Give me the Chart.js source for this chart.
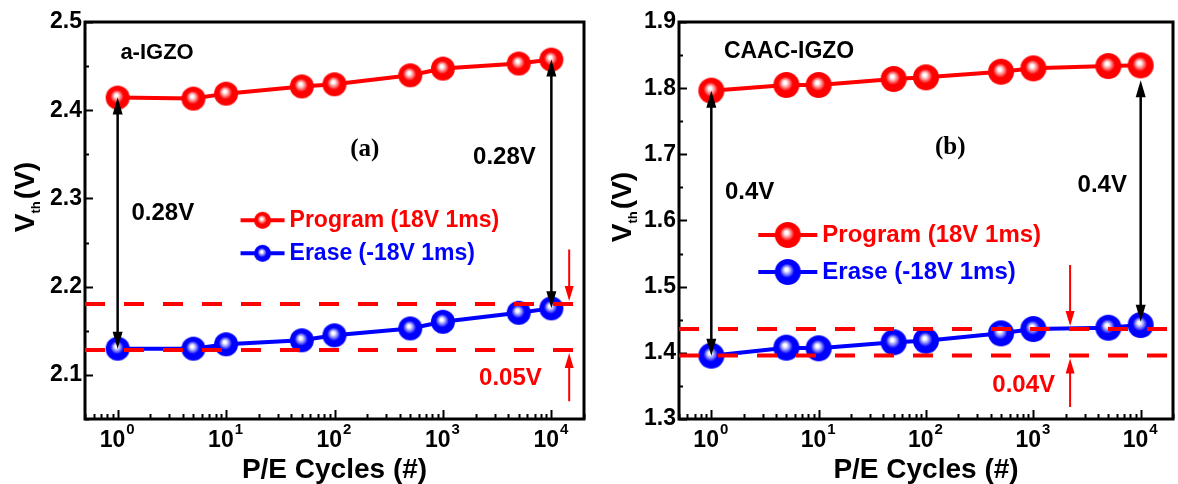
<!DOCTYPE html>
<html>
<head>
<meta charset="utf-8">
<script src="https://cdn.jsdelivr.net/npm/chart.js@4.4.1/dist/chart.umd.min.js"></script>
<style>
  html, body { margin: 0; padding: 0; background: #fff; overflow: hidden; }
  body { width: 1178px; height: 484px; position: relative; }
  canvas { position: absolute; top: 0; }
</style>
</head>
<body>
<canvas id="chart-a" width="600" height="484" style="left:0"></canvas>
<canvas id="chart-b" width="600" height="484" style="left:590px"></canvas>
<script>
// P/E cycles (x), shared by both panels
const cycles = [1, 5, 10, 50, 100, 500, 1000, 5000, 10000]

// (a) a-IGZO
const programA = [2.4143, 2.4132, 2.4188, 2.4270, 2.4294, 2.4396, 2.4472, 2.4529, 2.4574]
const eraseA = [2.1297, 2.1297, 2.1347, 2.1392, 2.1449, 2.1527, 2.1602, 2.1704, 2.1754]
const levelsA = [2.1281, 2.1803]

// (b) CAAC-IGZO
const programB = [1.7962, 1.8048, 1.8048, 1.8139, 1.8164, 1.8249, 1.8300, 1.8335, 1.8345]
const eraseB = [1.3957, 1.4078, 1.4069, 1.4160, 1.4184, 1.4295, 1.4360, 1.4380, 1.4420]
const levelsB = [1.3960, 1.4360]

const decadesShown = [0, 1, 2, 3, 4]

const SANS = '"Liberation Sans", Arial, Helvetica, sans-serif'
const SERIF = '"Liberation Serif", "Times New Roman", serif'
const RED = '#ff0000'
const BLUE = '#0000ff'

// shaded ball used as marker
function sphere(color, glow, r) {
  const c = document.createElement('canvas')
  const s = Math.ceil(r * 2 + 2)
  c.width = c.height = s
  const g = c.getContext('2d')
  const cx = s / 2, cy = s / 2
  const grad = g.createRadialGradient(cx - r * 0.12, cy - r * 0.2, 0, cx, cy, r)
  grad.addColorStop(0, '#ffffff')
  grad.addColorStop(0.12, '#ffffff')
  grad.addColorStop(0.3, glow)
  grad.addColorStop(0.55, color)
  grad.addColorStop(1, color)
  g.fillStyle = grad
  g.beginPath()
  g.arc(cx, cy, r, 0, Math.PI * 2)
  g.fill()
  return c
}

function arrowHead(ctx, x, y, dir, len, w) {
  ctx.beginPath()
  ctx.moveTo(x, y)
  ctx.lineTo(x - w / 2, y - dir * len)
  ctx.lineTo(x + w / 2, y - dir * len)
  ctx.closePath()
  ctx.fill()
}

const panelDecor = {
  id: 'panelDecor',
  beforeDatasetsDraw(chart, args, o) {
    const { ctx, chartArea: a, scales: { x, y } } = chart
    ctx.save()
    ctx.strokeStyle = '#000'
    ctx.fillStyle = '#000'
    ctx.lineWidth = 2

    y.ticks.forEach((t) => {
      const py = Math.round(y.getPixelForValue(t.value)) + 0.5
      const len = t.label ? 8 : 4
      ctx.beginPath()
      ctx.moveTo(a.left, py)
      ctx.lineTo(a.left + len, py)
      ctx.stroke()
    })

    for (let e = -1; e <= 4; e++) {
      for (let m = 1; m <= 9; m++) {
        const v = m * Math.pow(10, e)
        if (v < x.min || v > x.max) continue
        const px = Math.round(x.getPixelForValue(v)) + 0.5
        const len = m === 1 ? 9 : 5
        ctx.beginPath()
        ctx.moveTo(px, a.bottom)
        ctx.lineTo(px, a.bottom - len)
        ctx.stroke()
      }
    }

    ctx.lineWidth = 3
    ctx.strokeRect(a.left, a.top, a.right - a.left, a.bottom - a.top)

    // decade labels 10^n
    ctx.textBaseline = 'alphabetic'
    ctx.textAlign = 'left'
    decadesShown.forEach((n) => {
      const px = x.getPixelForValue(Math.pow(10, n))
      ctx.font = 'bold 23px ' + SANS
      const w1 = ctx.measureText('10').width
      ctx.font = 'bold 15px ' + SANS
      const w2 = ctx.measureText(String(n)).width
      const x0 = px - (w1 + w2) / 2 - 1
      ctx.font = 'bold 23px ' + SANS
      ctx.fillText('10', x0, a.bottom + 28)
      ctx.font = 'bold 15px ' + SANS
      ctx.fillText(String(n), x0 + w1 + 1, a.bottom + 15)
    })

    // x title
    ctx.textAlign = 'center'
    ctx.font = 'bold 28px ' + SANS
    ctx.fillText('P/E Cycles (#)', (a.left + a.right) / 2, a.bottom + 59)

    // y title V_th (V)
    ctx.save()
    ctx.translate(o.yTitle.x, o.yTitle.y)
    ctx.rotate(-Math.PI / 2)
    ctx.textAlign = 'left'
    ctx.font = 'bold 28px ' + SANS
    const wV = ctx.measureText('V').width
    const wP = ctx.measureText('(V)').width
    ctx.font = 'bold 13px ' + SANS
    const wS = ctx.measureText('th').width
    let tx = -(wV + wS + 2 + wP) / 2
    ctx.font = 'bold 28px ' + SANS
    ctx.fillText('V', tx, 10)
    tx += wV
    ctx.font = 'bold 13px ' + SANS
    ctx.fillText('th', tx, 16)
    tx += wS + 2
    ctx.font = 'bold 28px ' + SANS
    ctx.fillText('(V)', tx, 10)
    ctx.restore()

    ctx.restore()
  },
  afterDatasetsDraw(chart, args, o) {
    const { ctx, chartArea: a, scales: { x, y } } = chart
    ctx.save()

    // shift window (dashed levels)
    ctx.strokeStyle = RED
    ctx.lineWidth = 4
    ctx.setLineDash([20, 19])
    o.levels.forEach((lv) => {
      const py = y.getPixelForValue(lv)
      ctx.beginPath()
      ctx.moveTo(a.left, py)
      ctx.lineTo(a.right, py)
      ctx.stroke()
    })
    ctx.setLineDash([])

    // red shift arrows
    const sx = x.getPixelForValue(o.shift.x)
    ctx.fillStyle = RED
    ctx.lineWidth = 2
    const up = y.getPixelForValue(o.levels[1])
    const lo = y.getPixelForValue(o.levels[0])
    const top = y.getPixelForValue(o.shift.top)
    const bot = y.getPixelForValue(o.shift.bottom)
    ctx.beginPath()
    ctx.moveTo(sx, top)
    ctx.lineTo(sx, up - 14)
    ctx.moveTo(sx, bot)
    ctx.lineTo(sx, lo + 14)
    ctx.stroke()
    arrowHead(ctx, sx, up - 3, 1, 15, 9)
    arrowHead(ctx, sx, lo + 3, -1, 15, 9)

    // black double arrows (memory window)
    ctx.strokeStyle = '#000'
    ctx.fillStyle = '#000'
    ctx.lineWidth = 2.5
    o.gaps.forEach((g) => {
      const px = x.getPixelForValue(g.x)
      const p1 = y.getPixelForValue(g.from)
      const p2 = y.getPixelForValue(g.to)
      ctx.beginPath()
      ctx.moveTo(px, p1 + 12)
      ctx.lineTo(px, p2 - 12)
      ctx.stroke()
      arrowHead(ctx, px, p1, -1, 17, 10)
      arrowHead(ctx, px, p2, 1, 17, 10)
    })

    // text labels
    ctx.textBaseline = 'middle'
    o.texts.forEach((t) => {
      ctx.font = t.font
      ctx.fillStyle = t.color || '#000'
      ctx.textAlign = t.align || 'left'
      ctx.fillText(t.text, x.getPixelForValue(t.x), y.getPixelForValue(t.y))
    })

    // legend, drawn from the datasets
    const L = o.legend
    const lx = x.getPixelForValue(L.x)
    chart.data.datasets.forEach((ds, i) => {
      const ly = y.getPixelForValue(L.y[i])
      ctx.strokeStyle = ds.borderColor
      ctx.lineWidth = 4
      ctx.beginPath()
      ctx.moveTo(lx, ly)
      ctx.lineTo(lx + L.len, ly)
      ctx.stroke()
      const img = sphere(ds.borderColor, ds.glow, L.r)
      ctx.drawImage(img, lx + L.len / 2 - img.width / 2, ly - img.height / 2)
      ctx.font = L.font
      ctx.fillStyle = ds.borderColor
      ctx.textAlign = 'left'
      ctx.fillText(ds.label, lx + L.len + 5, ly)
    })

    ctx.restore()
  },
}

function makeChart(id, program, erase, yMin, yMax, markerR, padRight, axisW, decor) {
  const tickFont = { family: SANS, size: 23, weight: 'bold' }
  return new Chart(document.getElementById(id), {
    type: 'line',
    data: {
      datasets: [
        {
          label: 'Program (18V 1ms)',
          data: cycles.map((c, i) => ({ x: c, y: program[i] })),
          borderColor: RED,
          glow: '#ff9a9a',
          borderWidth: 4,
          pointStyle: sphere(RED, '#ff9a9a', markerR),
          pointRadius: markerR,
          tension: 0,
        },
        {
          label: 'Erase (-18V 1ms)',
          data: cycles.map((c, i) => ({ x: c, y: erase[i] })),
          borderColor: BLUE,
          glow: '#9a9aff',
          borderWidth: 4,
          pointStyle: sphere(BLUE, '#9a9aff', markerR),
          pointRadius: markerR,
          tension: 0,
        },
      ],
    },
    options: {
      responsive: false,
      animation: false,
      events: [],
      clip: false,
      layout: { padding: { top: 22, right: padRight, left: 0, bottom: 0 } },
      plugins: {
        legend: { display: false },
        tooltip: { enabled: false },
        panelDecor: decor,
      },
      scales: {
        x: {
          type: 'logarithmic',
          min: 0.5,
          max: 20000,
          grid: { display: false, drawTicks: false },
          border: { display: false },
          ticks: { display: false },
          afterFit: (s) => { s.height = 65 },
        },
        y: {
          min: yMin,
          max: yMax,
          grid: { display: false, drawTicks: false },
          border: { display: false },
          ticks: {
            stepSize: 0.05,
            autoSkip: false,
            padding: 3,
            color: '#000',
            font: tickFont,
            callback: (v) => {
              const t = Math.round(v * 100)
              return t % 10 === 0 ? (t / 100).toFixed(1) : ''
            },
          },
          afterFit: (s) => { s.width = axisW },
        },
      },
    },
    plugins: [panelDecor],
  })
}

makeChart('chart-a', programA, eraseA, 2.05, 2.5, 12, 10, 85, {
  levels: levelsA,
  shift: { x: 14600, top: 2.242, bottom: 2.07 },
  gaps: [
    { x: 1, from: programA[0], to: eraseA[0] },
    { x: 10000, from: programA[8], to: eraseA[8] },
  ],
  texts: [
    { text: 'a-IGZO', x: 1.06, y: 2.465, font: 'bold 22px ' + SANS },
    { text: '(a)', x: 190, y: 2.355, font: 'bold 25px ' + SERIF, align: 'center' },
    { text: '0.28V', x: 1.34, y: 2.2831, font: 'bold 24px ' + SANS },
    { text: '0.28V', x: 1897, y: 2.3466, font: 'bold 24px ' + SANS },
    { text: '0.05V', x: 2153, y: 2.0961, font: 'bold 24px ' + SANS, color: RED },
  ],
  legend: { x: 13.6, y: [2.2752, 2.2378], len: 44, r: 8.5, font: 'bold 23px ' + SANS },
  yTitle: { x: 24, y: 197 },
})

makeChart('chart-b', programB, eraseB, 1.3, 1.9, 13, 6, 89, {
  levels: levelsB,
  shift: { x: 2200, top: 1.5328, bottom: 1.318 },
  gaps: [
    { x: 1, from: programB[0], to: eraseB[0] },
    { x: 10000, from: 1.812, to: 1.447 },
  ],
  texts: [
    { text: 'CAAC-IGZO', x: 1.31, y: 1.855, font: 'bold 23px ' + SANS },
    { text: '(b)', x: 168, y: 1.7096, font: 'bold 25px ' + SERIF, align: 'center' },
    { text: '0.4V', x: 1.34, y: 1.643, font: 'bold 24px ' + SANS },
    { text: '0.4V', x: 2580, y: 1.6537, font: 'bold 24px ' + SANS },
    { text: '0.04V', x: 415, y: 1.3514, font: 'bold 24px ' + SANS, color: RED },
  ],
  legend: { x: 2.74, y: [1.5781, 1.5222], len: 59, r: 13, font: 'bold 24px ' + SANS },
  yTitle: { x: 31, y: 207 },
})
</script>
</body>
</html>
